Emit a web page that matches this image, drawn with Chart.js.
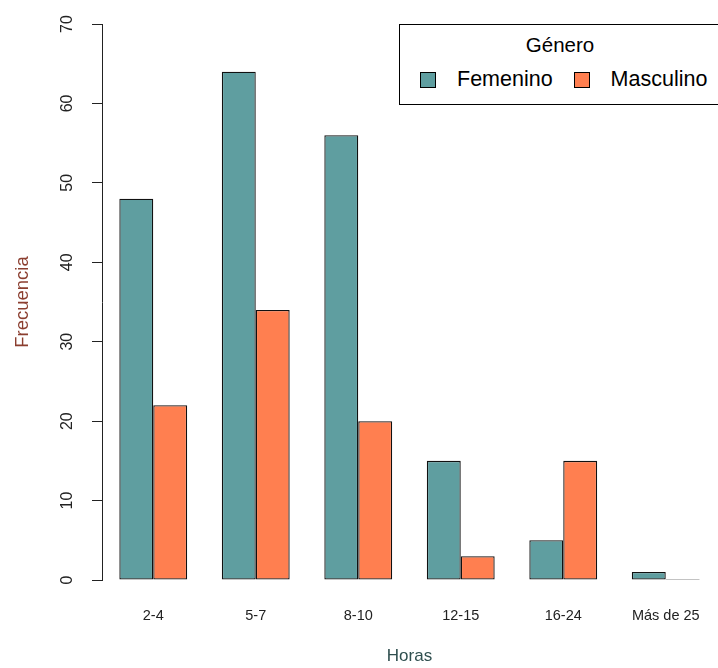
<!DOCTYPE html>
<html>
<head>
<meta charset="utf-8">
<script src="https://cdn.jsdelivr.net/npm/chart.js@4/dist/chart.umd.min.js"></script>
<style>
  html, body { margin:0; padding:0; background:#fff; }
  #wrap { position:relative; width:718px; height:668px; overflow:hidden; }
  #legend {
    position:absolute; left:399px; top:24px; width:322px; height:81px;
    box-sizing:border-box; border:1px solid #000; background:#fff;
    font-family:"Liberation Sans", Arial, sans-serif; color:#000;
  }
  #legend .title { position:absolute; left:0; right:0; top:8px; text-align:center; font-size:20.5px; }
  #legend .items { position:absolute; left:20px; top:42px; display:flex; align-items:center; font-size:21.5px; }
  #legend .sw { width:14px; height:14px; border:1px solid #000; margin-right:21px; }
  #legend .lab { margin-right:21px; }
</style>
</head>
<body>
<div id="wrap">
  <canvas id="chart" width="718" height="668"></canvas>
  <div id="legend"></div>
</div>
<script>
// ── data ──
const categories = ['2-4', '5-7', '8-10', '12-15', '16-24', 'Más de 25'];
const femenino   = [48, 64, 56, 15, 5, 1];
const masculino  = [22, 34, 20, 3, 15, 0];
const yTicks     = [0, 10, 20, 30, 40, 50, 60, 70];
const legendTitle = 'Género';

const FONT = '"Liberation Sans", Arial, sans-serif';

const datasets = [
  { label:'Femenino',  data:femenino,  backgroundColor:'#5F9EA0' },
  { label:'Masculino', data:masculino, backgroundColor:'#FF7F50' },
].map(d => ({
  ...d,
  borderColor:'#111',
  borderWidth:1.3,
  borderSkipped:false,
  minBarLength:1,
  categoryPercentage:0.662,
  barPercentage:1,
}));

const chart = new Chart(document.getElementById('chart').getContext('2d'), {
  type:'bar',
  data:{ labels:categories, datasets },
  options:{
    responsive:false,
    animation:false,
    layout:{ padding:{ left:0, right:1, top:24, bottom:0 } },
    plugins:{ legend:{ display:false }, tooltip:{ enabled:false } },
    scales:{
      x:{
        grid:{ display:true, drawOnChartArea:false, drawTicks:true, tickLength:25, tickColor:'rgba(0,0,0,0)' },
        border:{ display:false },
        ticks:{ color:'#222', font:{ family:FONT, size:14.5 }, padding:2, maxRotation:0, autoSkip:false },
        title:{ display:true, text:'Horas', color:'#2F4F4F', font:{ family:FONT, size:17 }, padding:{ top:0, bottom:1 } },
        afterFit: s => { s.height = 88; },
      },
      y:{
        min:0, max:70,
        afterBuildTicks: s => { s.ticks = yTicks.map(v => ({ value:v })); },
        grid:{ drawOnChartArea:false, drawTicks:true, tickLength:10, color:'#222', tickColor:'#222' },
        border:{ display:true, color:'#222', width:1 },
        ticks:{ color:'#222', font:{ family:FONT, size:16, lineHeight:1 }, minRotation:90, maxRotation:90, crossAlign:'center', padding:16 },
        title:{ display:true, text:'Frecuencia', color:'#8B3E2F', font:{ family:FONT, size:18.5 }, padding:{ top:12, bottom:0 } },
        afterFit: s => { s.width = 102; },
      }
    }
  }
});

// ── legend box (R style, inside plot top-right) ──
const lg = document.getElementById('legend');
lg.innerHTML = '<div class="title">' + legendTitle + '</div><div class="items">' +
  chart.data.datasets.map(d =>
    '<div class="sw" style="background:' + d.backgroundColor + '"></div><div class="lab">' + d.label + '</div>'
  ).join('') + '</div>';
</script>
</body>
</html>
